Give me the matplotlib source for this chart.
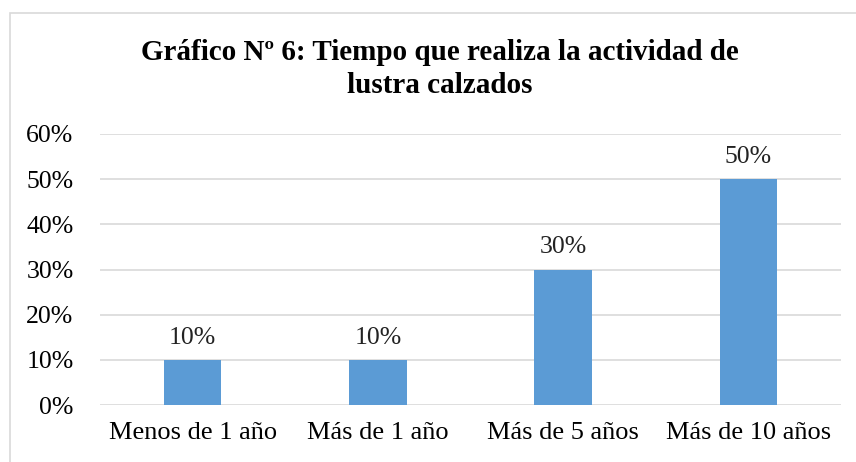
import matplotlib
matplotlib.use('Agg')
import matplotlib.pyplot as plt
from matplotlib.patches import Rectangle

# ===== DATA =====
categories = ['Menos de 1 año', 'Más de 1 año', 'Más de 5 años', 'Más de 10 años']
values = [0.10, 0.10, 0.30, 0.50]
yticks = [0.0, 0.1, 0.2, 0.3, 0.4, 0.5, 0.6]
title = 'Gráfico Nº 6: Tiempo que realiza la actividad de\nlustra calzados'

plt.rcParams['font.family'] = ['Liberation Serif', 'DejaVu Serif']

fig = plt.figure(figsize=(8.56, 4.62), dpi=100)
W, H = 856, 462

# outer chart border (cropped on right/bottom)
fig.patches.append(Rectangle((10 / W, -0.1), 1.2, (H - 13) / H + 0.1,
                             transform=fig.transFigure, fill=False,
                             edgecolor='#D9D9D9', linewidth=1.2))

ax = fig.add_axes([100 / W, (H - 405) / H, 741 / W, 271 / H])
x = range(len(categories))
bars = ax.bar(x, values, width=0.31, color='#5B9BD5', zorder=3)

ax.set_xlim(-0.5, len(categories) - 0.5)
ax.set_ylim(0, 0.6)
ax.set_yticks(yticks)
ax.set_yticklabels([f'{int(round(v * 100))}%' for v in yticks], fontsize=18.5)
ax.set_xticks(list(x))
ax.set_xticklabels(categories, fontsize=19)
ax.tick_params(length=0)
ax.tick_params(axis='x', pad=12)
ax.tick_params(axis='y', pad=19)
ax.grid(axis='y', color='#D9D9D9', linewidth=1.2, zorder=0)
for s in ax.spines.values():
    s.set_visible(False)

for b, v in zip(bars, values):
    ax.annotate(f'{int(round(v * 100))}%', (b.get_x() + b.get_width() / 2, v),
                xytext=(0, 8), textcoords='offset points',
                ha='center', va='bottom', fontsize=18.5, color='#222222')

fig.text(440 / W, 1 - 69 / H, title, ha='center', va='center',
         fontsize=21, fontweight='bold', linespacing=1.32)

fig.savefig('out.png', dpi=100)
